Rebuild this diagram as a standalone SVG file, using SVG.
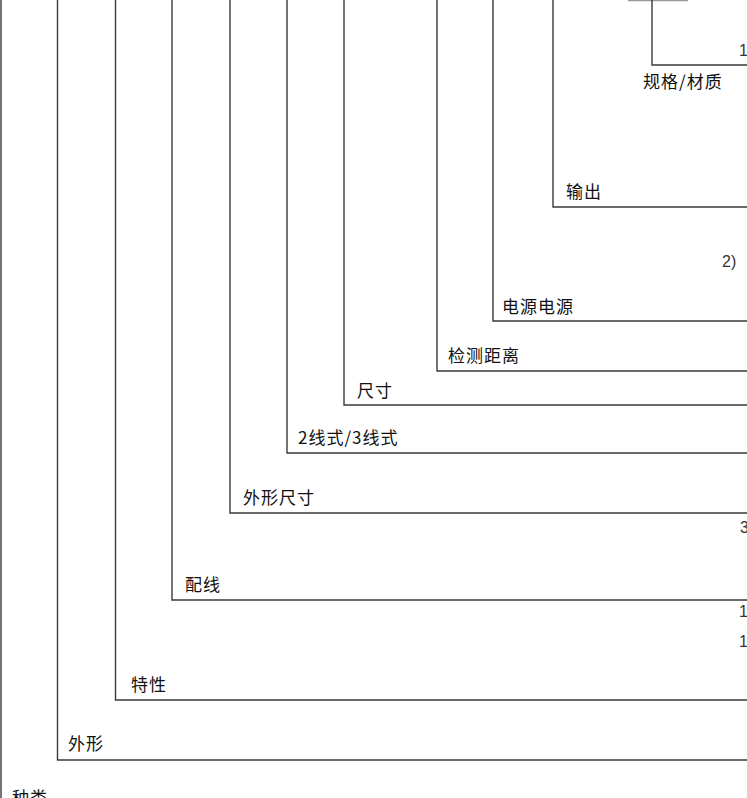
<svg xmlns="http://www.w3.org/2000/svg" width="747" height="798" viewBox="0 0 747 798">
<style>
.ln{fill:none;stroke:#3a3a3a;stroke-width:1.4}
.lb{font-family:"Noto Sans CJK SC","Noto Sans",sans-serif;font-size:17px;letter-spacing:1px;fill:#111}
.nm{font-family:"Liberation Sans","DejaVu Sans",sans-serif;font-size:16px;fill:#333}
</style>
<rect width="747" height="798" fill="#fff"/>
<g id="connectors">
<path class="ln" d="M1,0V798"/>
<path class="ln" d="M628,0.5H688" style="stroke:#999"/>
</g>
<g id="n-waixing"><path class="ln" d="M57.5,0V760H747"/><text class="lb" x="68" y="750">外形</text></g>
<g id="n-texing"><path class="ln" d="M115.5,0V700H747"/><text class="lb" x="131" y="691">特性</text></g>
<g id="n-peixian"><path class="ln" d="M172,0V600H747"/><text class="lb" x="185" y="591">配线</text></g>
<g id="n-waixingchicun"><path class="ln" d="M230,0V513H747"/><text class="lb" x="243" y="504">外形尺寸</text></g>
<g id="n-xianshi"><path class="ln" d="M287,0V453H747"/><text class="lb" x="298" y="444">2线式/3线式</text></g>
<g id="n-chicun"><path class="ln" d="M344,0V405H747"/><text class="lb" x="357" y="397">尺寸</text></g>
<g id="n-jiance"><path class="ln" d="M437,0V371H747"/><text class="lb" x="448" y="362">检测距离</text></g>
<g id="n-dianyuan"><path class="ln" d="M493,0V321H747"/><text class="lb" x="502" y="313">电源电源</text></g>
<g id="n-shuchu"><path class="ln" d="M553,0V207H747"/><text class="lb" x="566" y="198">输出</text></g>
<g id="n-guige"><path class="ln" d="M652,0V65H747"/><text class="lb" x="643" y="88">规格/材质</text></g>
<g id="n-zhonglei"><text class="lb" x="12" y="804">种类</text></g>
<g id="nums">
<text class="nm" x="739" y="56">1</text>
<text class="nm" x="722" y="267">2)</text>
<text class="nm" x="740" y="533">3</text>
<text class="nm" x="739" y="617">1</text>
<text class="nm" x="739" y="647">1</text>
</g>
</svg>
